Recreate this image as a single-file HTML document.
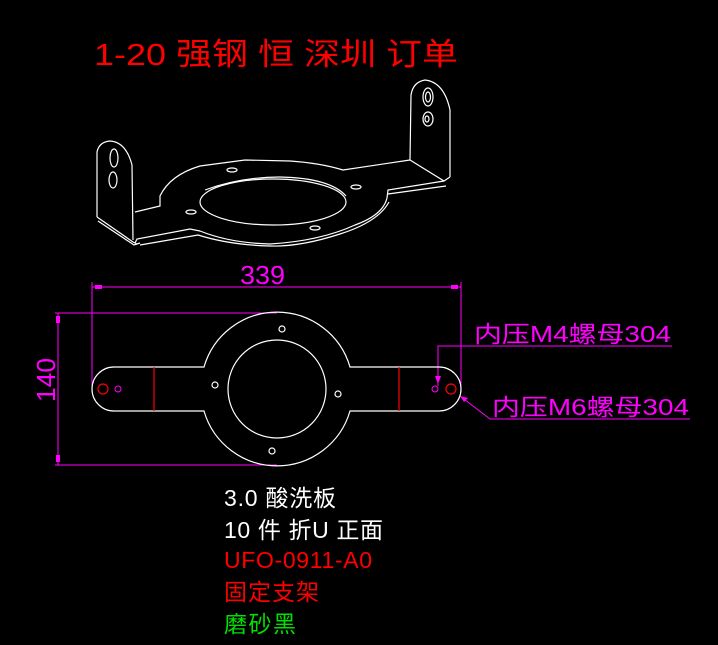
<!DOCTYPE html>
<html><head><meta charset="utf-8"><style>
html,body{margin:0;padding:0;background:#000;}
svg{display:block;}
</style></head><body>
<svg width="718" height="645" viewBox="0 0 718 645" xmlns="http://www.w3.org/2000/svg">
<rect width="718" height="645" fill="#000"/>
<text x="94" y="65" font-family="Liberation Sans, Noto Sans CJK SC, sans-serif" font-size="31" fill="#ff0000" textLength="364" lengthAdjust="spacingAndGlyphs">1-20 强钢 恒 深圳  订单</text>

<!-- 3D view -->
<g fill="none" stroke="#fff" stroke-width="1.2">
<path d="M97,217 L97,152 Q99,142 110,141 Q126,142 132,165 L133,240"/>
<path d="M97,217 L133,242 L137,244"/>
<path d="M98,221 L134,245 L140,243"/>
<ellipse cx="114" cy="158" rx="4" ry="9"/>
<ellipse cx="113" cy="180" rx="4" ry="8"/>
<path d="M135,212 L160,206 L160,196 Q170,175 200,166 L245,160 L290,161 Q320,163 343,170 L410,160"/>
<path d="M410,160 L411,95 Q413,82 425,80 Q444,82 450,110 L450,177"/>
<path d="M410,160 L444,181 L450,177"/>
<path d="M444,181 L388,190 L387,198 Q383,215 355,225 Q320,241 270,244 Q230,243 200,231 L190,229 L137,239 L135,243"/>
<path d="M446,186 L388,194"/>
<path d="M389,202 Q378,222 340,234 Q300,247 270,246 Q230,245 198,235 L140,245"/>
<ellipse cx="273" cy="202" rx="73" ry="23"/>
<path d="M205,190 Q240,177 280,177 Q330,178 346,196"/>
<ellipse cx="232" cy="170" rx="5" ry="2"/>
<ellipse cx="356" cy="187" rx="5" ry="2"/>
<ellipse cx="191" cy="212" rx="5" ry="2"/>
<ellipse cx="315" cy="228" rx="5" ry="2"/>
<ellipse cx="428" cy="97" rx="5" ry="9"/>
<ellipse cx="428" cy="97" rx="2.5" ry="5"/>
<ellipse cx="428" cy="119" rx="5" ry="7"/>
<ellipse cx="427" cy="119" rx="2" ry="3"/>
</g>

<!-- dimensions -->
<g stroke="#ff00ff" stroke-width="1" fill="none">
<line x1="92" y1="287" x2="461" y2="287"/>
<line x1="92" y1="282" x2="92" y2="388"/>
<line x1="461" y1="282" x2="461" y2="392"/>
<line x1="55" y1="313" x2="277" y2="313"/>
<line x1="55" y1="465" x2="277" y2="465"/>
<line x1="58" y1="313" x2="58" y2="465"/>
<polyline points="438,386 438,346 672,346"/>
<polyline points="460,396 490,419 690,419"/>
<circle cx="118" cy="389" r="3"/>
<circle cx="435" cy="389" r="3"/>
</g>
<g fill="#ff00ff">
<rect x="95" y="285" width="7" height="4"/>
<rect x="451" y="285" width="7" height="4"/>
<rect x="56" y="316" width="4" height="7"/>
<rect x="56" y="455" width="4" height="7"/>
<polygon points="435,376 441,376 438,384"/>
<polygon points="460,396 468,398 464,402"/>
</g>
<text x="240" y="284" font-family="Liberation Sans, sans-serif" font-size="26" fill="#ff00ff" textLength="45" lengthAdjust="spacingAndGlyphs">339</text>
<text transform="translate(55,402) rotate(-90)" font-family="Liberation Sans, sans-serif" font-size="26" fill="#ff00ff" textLength="44" lengthAdjust="spacingAndGlyphs">140</text>
<text x="474" y="342" font-family="Liberation Sans, Noto Sans CJK SC, sans-serif" font-size="23" fill="#ff00ff" textLength="197" lengthAdjust="spacingAndGlyphs">内压M4螺母304</text>
<text x="492" y="415" font-family="Liberation Sans, Noto Sans CJK SC, sans-serif" font-size="23" fill="#ff00ff" textLength="197" lengthAdjust="spacingAndGlyphs">内压M6螺母304</text>

<!-- plate -->
<g fill="none" stroke="#fff" stroke-width="1.2">
<path d="M204,367 L114,367 A22,22 0 0 0 114,411 L204,411 A76,76 0 0 0 350,411 L439,411 A22,22 0 0 0 439,367 L350,367 A76,76 0 0 0 204,367 Z"/>
<circle cx="277" cy="389" r="49"/>
<circle cx="282" cy="329" r="3"/>
<circle cx="272" cy="451" r="3"/>
<circle cx="215" cy="385" r="3"/>
<circle cx="338" cy="394" r="3"/>
</g>
<g fill="none" stroke="#ff0000" stroke-width="1.2">
<line x1="154" y1="367" x2="154" y2="411"/>
<line x1="399" y1="367" x2="399" y2="411"/>
<circle cx="103" cy="389" r="5"/>
<circle cx="451" cy="389" r="5"/>
</g>

<g font-family="Liberation Sans, Noto Sans CJK SC, sans-serif" font-size="23" lengthAdjust="spacingAndGlyphs">
<text x="224" y="506" fill="#fff" textLength="112">3.0 酸洗板</text>
<text x="224" y="538" fill="#fff" textLength="159">10 件 折U 正面</text>
<text x="224" y="568" fill="#ff0000" textLength="148">UFO-0911-A0</text>
<text x="224" y="600" fill="#ff0000" textLength="95">固定支架</text>
<text x="224" y="632" fill="#00e000" textLength="72">磨砂黑</text>
</g>
</svg>
</body></html>
